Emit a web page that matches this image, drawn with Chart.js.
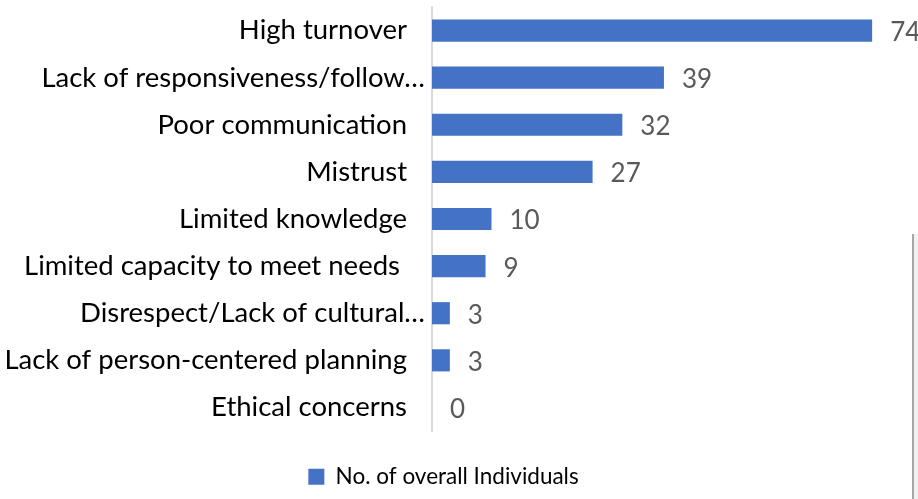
<!DOCTYPE html>
<html>
<head>
<meta charset="utf-8">
<script src="https://cdn.jsdelivr.net/npm/chart.js@4"></script>
<style>
html,body{margin:0;padding:0;background:#fff;overflow:hidden;}
#wrap{position:relative;width:918px;height:499px;}
#side{position:absolute;left:912px;top:234px;width:6px;height:265px;border-left:2px solid #a6a6a6;background:#f2f2f2;box-sizing:border-box;}
</style>
</head>
<body>
<div id="wrap">
<canvas id="c" width="918" height="499"></canvas>
<div id="side"></div>
</div>
<script>
const categories = [
  "High turnover",
  "Lack of responsiveness/follow…",
  "Poor communication",
  "Mistrust",
  "Limited knowledge",
  "Limited capacity to meet needs ",
  "Disrespect/Lack of cultural…",
  "Lack of person-centered planning",
  "Ethical concerns"
];
const values = [74, 39, 32, 27, 10, 9, 3, 3, 0];
const seriesName = "No. of overall Individuals";

const FONT = "Lato, 'Open Sans', sans-serif";

// Category labels: right-aligned beside the axis; truncated labels (ending in an ellipsis) sit closer to the axis, as in Excel.
const catLabelPlugin = {
  id: 'catLabels',
  afterDraw(chart) {
    const ctx = chart.ctx;
    const y = chart.scales.y;
    ctx.save();
    ctx.font = "27.5px " + FONT;
    ctx.fillStyle = "#000000";
    ctx.textBaseline = "middle";
    ctx.textAlign = "right";
    chart.data.labels.forEach((lab, i) => {
      const truncated = lab.endsWith("…");
      const xr = chart.chartArea.left - (truncated ? 7 : 25);
      ctx.fillText(lab, xr, y.getPixelForTick(i));
    });
    ctx.restore();
  }
};

const labelPlugin = {
  id: 'endLabels',
  afterDatasetsDraw(chart) {
    const ctx = chart.ctx;
    const meta = chart.getDatasetMeta(0);
    ctx.save();
    ctx.font = "26px " + FONT;
    ctx.fillStyle = "#595959";
    ctx.textBaseline = "middle";
    ctx.textAlign = "left";
    meta.data.forEach((bar, i) => {
      ctx.fillText(String(chart.data.datasets[0].data[i]), bar.x + 18, bar.y + 2);
    });
    ctx.restore();
  }
};

const chart = new Chart(document.getElementById('c'), {
  type: 'bar',
  data: {
    labels: categories,
    datasets: [{
      label: seriesName,
      data: values,
      backgroundColor: '#4472c4',
      borderWidth: 0,
      barPercentage: 0.47,
      categoryPercentage: 1.0
    }]
  },
  options: {
    indexAxis: 'y',
    responsive: false,
    animation: false,
    layout: { padding: { top: 7, right: 31, left: 0, bottom: 1 } },
    scales: {
      x: {
        display: false,
        min: 0,
        max: 76.5
      },
      y: {
        grid: { display: false, drawTicks: false },
        border: { display: true, color: '#d9d9d9', width: 2 },
        ticks: { display: false, autoSkip: false },
        afterFit(s) { s.paddingTop = 0; s.paddingBottom = 0; s.width = 432; }
      }
    },
    plugins: {
      legend: {
        position: 'bottom',
        labels: {
          color: '#000000',
          font: { family: FONT, size: 22.5 },
          boxWidth: 16,
          boxHeight: 16,
          padding: 34.5
        }
      },
      tooltip: { enabled: false }
    }
  },
  plugins: [labelPlugin, catLabelPlugin]
});
</script>
</body>
</html>
